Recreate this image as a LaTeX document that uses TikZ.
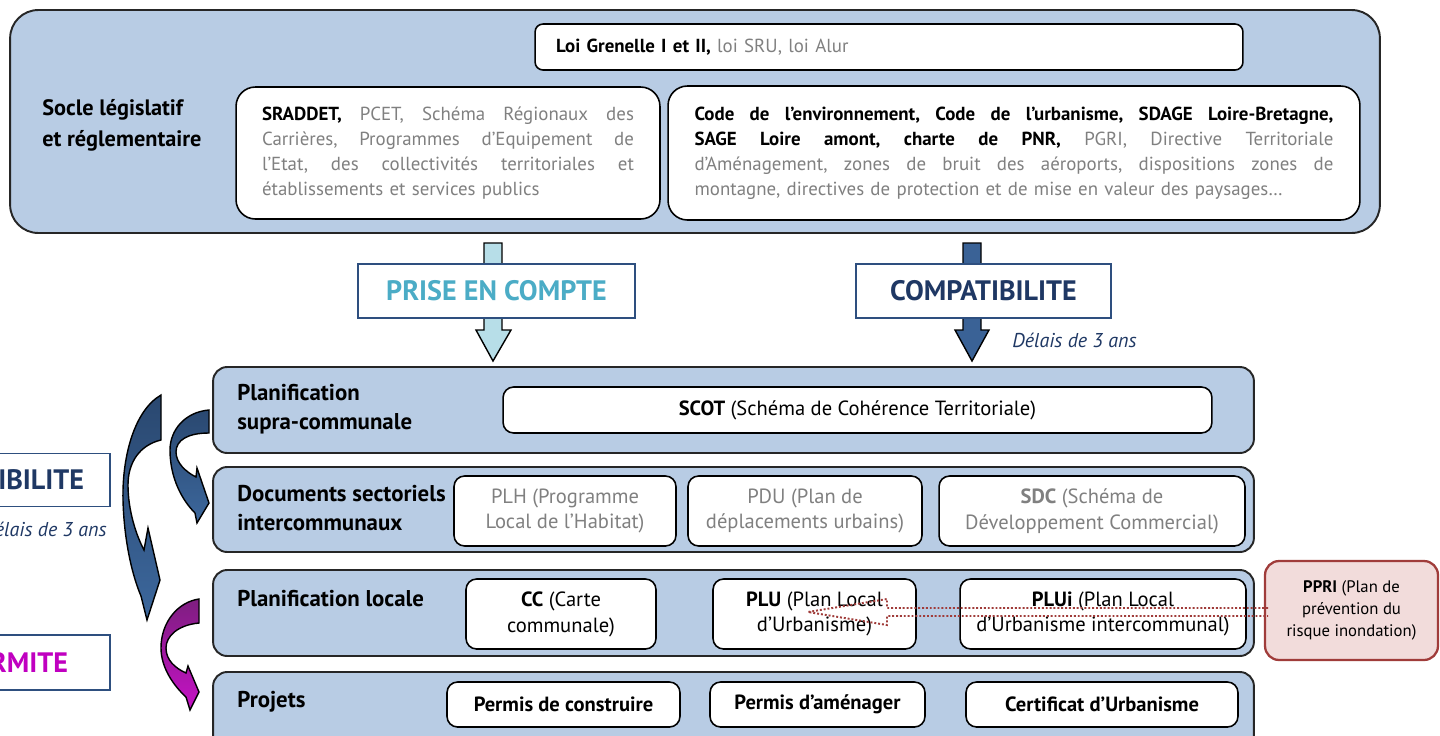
\documentclass[tikz,border=0pt]{standalone}
\usepackage{fontspec}
\setmainfont{PT Sans}

\definecolor{panelblue}{HTML}{B8CCE4}
\definecolor{txtgray}{HTML}{808080}
\definecolor{prisecol}{HTML}{4BACC6}
\definecolor{compatcol}{HTML}{1F3864}
\definecolor{framenavy}{HTML}{2E4F7F}
\definecolor{lightarrow}{HTML}{B7DEE8}
\definecolor{darkarrow}{HTML}{3A6296}
\definecolor{bluetop}{HTML}{2A4870}
\definecolor{bluebot}{HTML}{3C679C}
\definecolor{purpletop}{HTML}{7E1E80}
\definecolor{purplebot}{HTML}{C512C5}
\definecolor{magentatxt}{HTML}{C000C0}
\definecolor{pprifill}{HTML}{F2DCDB}
\definecolor{ppriedge}{HTML}{A03C3A}

\newcommand\topfont{\fontsize{10.75}{14.2}\selectfont}
\newcommand\bodyfont{\fontsize{11.7}{14.7}\selectfont}
% ligne justifiee sur une largeur donnee
\newcommand\justline[2]{\leavevmode\hbox to #1{\frenchspacing\spaceskip=\fontdimen2\font plus 1fil\relax #2}}

\tikzset{
  panel/.style={draw=black!85, line width=1.1pt, fill=panelblue, inner sep=0pt},
  card/.style={draw=black, line width=0.9pt, fill=white, rounded corners=6pt,
    inner sep=0pt, align=center, font=\bodyfont},
  rowtitle/.style={anchor=west, align=left, inner sep=0pt,
    font=\bfseries\fontsize{13}{16.5}\selectfont},
  linkbox/.style={draw=framenavy, line width=0.9pt, fill=white, inner sep=0pt,
    minimum width=5.1cm, minimum height=1.08cm, font=\bfseries\fontsize{16}{18}\selectfont},
  delay/.style={inner sep=0pt, text=compatcol, font=\itshape\fontsize{11.4}{13}\selectfont},
  flatarrow/.style={draw=black, line width=0.8pt},
  bentarrow/.style={draw=black, line width=0.8pt},
}

\begin{document}
\begin{tikzpicture}[x=0.02cm, y=-0.02cm]
\useasboundingbox (0,0) rectangle (1440,735);
\clip (0,0) rectangle (1440,735);

% socle legislatif
\node[panel, rounded corners=16pt, minimum width=27.4cm, minimum height=4.46cm] (socle) at (695,121.5) {};
\node[rowtitle, font=\bfseries\fontsize{12.7}{17.5}\selectfont] (soclet) at (42,125) {Socle législatif\\et réglementaire};
\node[card, rounded corners=4.5pt, text width=13.32cm, inner xsep=0.42cm, minimum height=0.92cm, align=left, font=\topfont] (lois) at (889,47)
  {\textbf{Loi Grenelle I et II,} \textcolor{txtgray}{loi SRU, loi Alur}};
\node[card, rounded corners=11pt, text width=7.44cm, inner xsep=0.52cm, minimum height=2.64cm, align=left, font=\topfont] (sraddet) at (448,153)
  {\justline{7.44cm}{\textbf{SRADDET,} \textcolor{txtgray}{PCET, Schéma Régionaux des}}\\
   \color{txtgray}\justline{7.44cm}{Carrières, Programmes d’Equipement de}\\
   \justline{7.44cm}{l’Etat, des collectivités territoriales et}\\
   établissements et services publics};
\node[card, rounded corners=11pt, text width=12.78cm, inner xsep=0.53cm, minimum height=2.68cm, align=left, font=\topfont] (codes) at (1014,153)
  {\justline{12.78cm}{\textbf{Code de l’environnement, Code de l’urbanisme, SDAGE Loire-Bretagne,}}\\
   \justline{12.78cm}{\textbf{SAGE Loire amont, charte de PNR,} \textcolor{txtgray}{PGRI, Directive Territoriale}}\\
   \color{txtgray}\justline{12.78cm}{d’Aménagement, zones de bruit des aéroports, dispositions zones de}\\
   montagne, directives de protection et de mise en valeur des paysages…};

% fleches droites
\draw[flatarrow, fill=lightarrow] (484,243) -- (502,243) -- (502,330) -- (511,330) -- (493,361) -- (476,330) -- (484,330) -- cycle;
\draw[flatarrow, fill=darkarrow] (963,243) -- (981,243) -- (981,330) -- (989,330) -- (972,361) -- (955,330) -- (963,330) -- cycle;
\node[linkbox, minimum width=5.54cm, text=prisecol] (prise) at (496.5,291) {PRISE EN COMPTE};
\node[linkbox, text=compatcol] (compat) at (983.5,291) {COMPATIBILITE};
\node[delay, anchor=west] (delai) at (1012,340) {Délais de 3 ans};

% niveaux
\node[panel, rounded corners=8pt, minimum width=20.82cm, minimum height=1.72cm] (supra) at (733.5,410) {};
\node[rowtitle] at (237,409) {Planification\\supra-communale};
\node[card, minimum width=14.18cm, minimum height=0.92cm] (scot) at (857.5,410) {\textbf{SCOT} (Schéma de Cohérence Territoriale)};

\node[panel, rounded corners=8pt, minimum width=20.82cm, minimum height=1.7cm] (secto) at (733.5,509.5) {};
\node[rowtitle] at (237,508.5) {Documents sectoriels\\intercommunaux};
\node[card, minimum width=4.44cm, minimum height=1.4cm, text=txtgray] (plh) at (565,511) {PLH (Programme\\Local de l’Habitat)};
\node[card, minimum width=4.68cm, minimum height=1.4cm, text=txtgray] (pdu) at (805,511) {PDU (Plan de\\déplacements urbains)};
\node[card, minimum width=6.12cm, minimum height=1.4cm, text=txtgray] (sdc) at (1092,511) {\textbf{SDC} (Schéma de\\Développement Commercial)};

\node[panel, rounded corners=8pt, minimum width=20.82cm, minimum height=1.72cm] (locale) at (733.5,613) {};
\node[rowtitle] at (237,599) {Planification locale};
\node[card, minimum width=3.8cm, minimum height=1.4cm] (cc) at (561,614) {\textbf{CC} (Carte\\communale)};
\node[card, minimum width=4.06cm, minimum height=1.4cm] (plu) at (814.5,614) {\textbf{PLU} (Plan Local\\d’Urbanisme)};
\node[card, minimum width=5.72cm, minimum height=1.4cm] (plui) at (1103,614) {\textbf{PLUi} (Plan Local\\d’Urbanisme intercommunal)};

\node[panel, rounded corners=8pt, minimum width=20.82cm, minimum height=1.72cm] (projets) at (733.5,715) {};
\node[rowtitle] at (237,702) {Projets};
\node[card, minimum width=4.66cm, minimum height=0.9cm, font=\bfseries\bodyfont] (pc) at (563.5,704.5) {Permis de construire};
\node[card, minimum width=4.3cm, minimum height=0.9cm, font=\bfseries\bodyfont] (pa) at (817.5,704.5) {Permis d’aménager};
\node[card, minimum width=5.44cm, minimum height=0.9cm, font=\bfseries\bodyfont] (cu) at (1102,704.5) {Certificat d’Urbanisme};

% fleches courbes a gauche
\draw[bentarrow, top color=bluetop, bottom color=bluebot] (161,395) .. controls (135,410) and (122,455) .. (123,500)
  .. controls (124,540) and (132,575) .. (141,596) -- (147,620) -- (160,580) -- (148,528) -- (144,550)
  .. controls (136,535) and (128,510) .. (128,485) .. controls (128,462) and (140,445) .. (161,440) -- cycle;
\draw[bentarrow, top color=bluetop, bottom color=bluebot] (209,410) .. controls (185,412) and (170,430) .. (170,450)
  .. controls (170,478) and (182,500) .. (195,513) -- (197,523) -- (209,503) -- (197,468) -- (196,477)
  .. controls (186,472) and (176,463) .. (176,452) .. controls (176,440) and (188,433) .. (209,433) -- cycle;
\draw[bentarrow, top color=purpletop, bottom color=purplebot] (199,599) .. controls (178,602) and (161,622) .. (161,648)
  .. controls (161,668) and (174,686) .. (186,697) -- (190,710) -- (199,692) -- (188,666) -- (186,673)
  .. controls (175,668) and (166,660) .. (166,648) .. controls (166,636) and (178,625) .. (199,623) -- cycle;

\node[linkbox, text=compatcol, minimum height=1.06cm, align=right, text width=4.06cm, inner xsep=0.52cm] (compatg) at (-17.5,480) {COMPATIBILITE};
\node[delay, anchor=east] (delaig) at (107,529) {Délais de 3 ans};
\node[linkbox, text=magentatxt, minimum height=1.1cm, align=right, text width=3.42cm, inner xsep=0.84cm] (confg) at (-17.5,662.5) {CONFORMITE};

% PPRI
\node[card, fill=pprifill, draw=ppriedge, line width=1.3pt, rounded corners=8pt, minimum width=3.46cm,
  minimum height=1.98cm, font=\fontsize{9.5}{12.5}\selectfont] (ppri) at (1351.5,610.5)
  {\textbf{PPRI} (Plan de\\prévention du\\risque inondation)};
\draw[ppriedge, line width=1.1pt, dash pattern=on 1.1pt off 1.1pt] (1268,608) -- (887,608) -- (887,599) -- (808,612)
  -- (887,625) -- (887,616) -- (1268,616);
\end{tikzpicture}
\end{document}
